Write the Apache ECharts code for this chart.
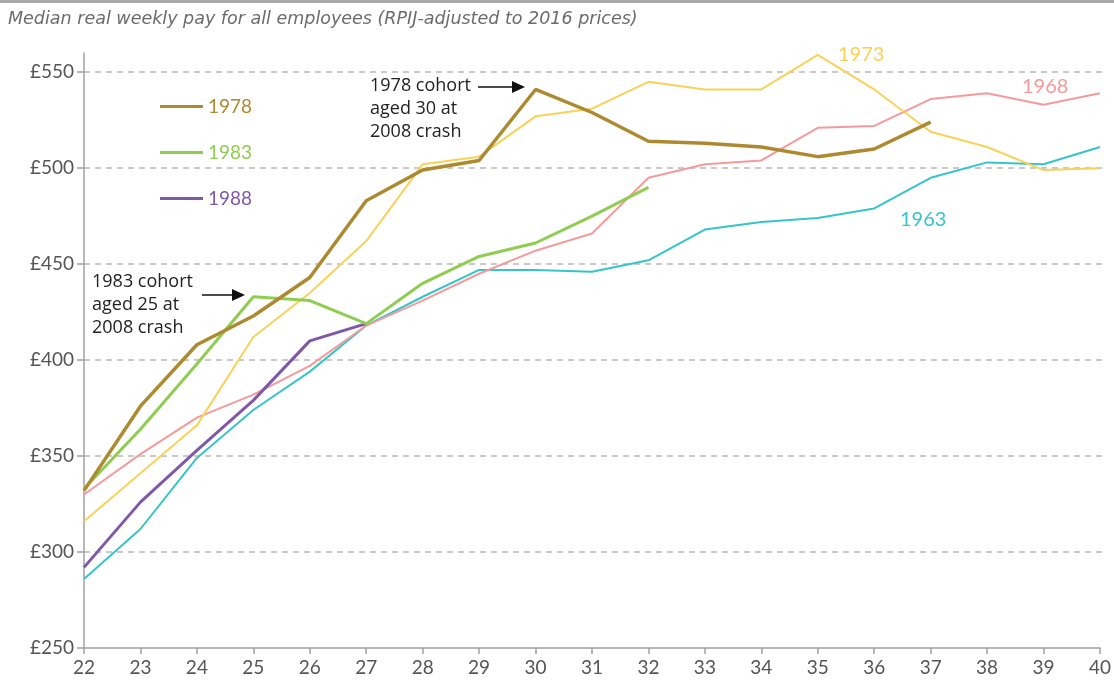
<!DOCTYPE html>
<html>
<head>
<meta charset="utf-8">
<script src="https://cdn.jsdelivr.net/npm/echarts@6/dist/echarts.min.js"></script>
<style>
  html, body { margin: 0; padding: 0; background: #fff; }
  #main { width: 1114px; height: 688px; }
</style>
</head>
<body>
<div id="main"></div>
<script>
// ages on the x axis
var ages = ['22', '23', '24', '25', '26', '27', '28', '29', '30', '31', '32', '33', '34', '35', '36', '37', '38', '39', '40']
var yTicks = [250, 300, 350, 400, 450, 500, 550]

// median real weekly pay by birth cohort (£, 2016 prices)
var c1963 = [286, 312, 349, 374, 394, 418, 433, 447, 447, 446, 452, 468, 472, 474, 479, 495, 503, 502, 511]
var c1968 = [330, 351, 370, 382, 397, 418, 431, 445, 457, 466, 495, 502, 504, 521, 522, 536, 539, 533, 539]
var c1973 = [316, 341, 366, 412, 435, 462, 502, 506, 527, 531, 545, 541, 541, 559, 541, 519, 511, 499, 500]
var c1978 = [332, 376, 408, 423, 443, 483, 499, 504, 541, 529, 514, 513, 511, 506, 510, 524]
var c1983 = [333, 364, 398, 433, 431, 419, 440, 454, 461, 475, 490]
var c1988 = [292, 326, 353, 379, 410, 419]

var colors = {
  '1963': '#35c5c8',
  '1968': '#f59a9c',
  '1973': '#f8d258',
  '1978': '#ad8a2f',
  '1983': '#8fcd50',
  '1988': '#7f58a9'
}

var myChart = echarts.init(document.getElementById('main'))

function line(name, data, width, z) {
  return {
    name: name,
    type: 'line',
    data: data,
    symbol: 'none',
    z: z,
    lineStyle: { color: colors[name], width: width },
    itemStyle: { color: colors[name] }
  }
}

function arrow(x1, x2, y) {
  return [
    { type: 'line', shape: { x1: x1, y1: y, x2: x2 - 11, y2: y }, style: { stroke: '#111', lineWidth: 1.5 } },
    { type: 'polygon', shape: { points: [[x2 - 13, y - 6], [x2, y], [x2 - 13, y + 6]] }, style: { fill: '#111' } }
  ]
}

function note(x, y, text) {
  return {
    type: 'text', left: x, top: y,
    style: { text: text, fill: '#222', font: '18px "Open Sans"', lineHeight: 23 }
  }
}

function tag(x, y, name) {
  return {
    type: 'text', left: x, top: y,
    style: { text: name, fill: colors[name], font: '20px Lato' }
  }
}

var option = {
  animation: false,
  grid: [
    { left: 84, right: 12, top: 53, bottom: 40 },
    { left: 84, right: 12, top: 72, bottom: 40 }
  ],
  legend: {
    left: 155,
    top: 92,
    orient: 'vertical',
    icon: 'rect',
    itemWidth: 43,
    itemHeight: 3,
    itemGap: 27,
    textStyle: { fontFamily: 'Lato', fontSize: 19 },
    data: [
      { name: '1978', textStyle: { color: colors['1978'] } },
      { name: '1983', textStyle: { color: colors['1983'] } },
      { name: '1988', textStyle: { color: colors['1988'] } }
    ]
  },
  xAxis: [
    {
      type: 'category',
      data: ages,
      boundaryGap: false,
      gridIndex: 0,
      axisLine: { lineStyle: { color: '#a0a0a0', width: 1.5 } },
      axisTick: { show: true, length: 6, lineStyle: { color: '#a0a0a0', width: 1.5 } },
      axisLabel: { color: '#555', fontFamily: 'Lato', fontSize: 19, margin: 10 }
    },
    {
      type: 'category',
      data: ages,
      boundaryGap: false,
      gridIndex: 1,
      show: false
    }
  ],
  yAxis: [
    {
      type: 'value',
      gridIndex: 0,
      min: 250,
      max: 560,
      axisLine: { show: true, lineStyle: { color: '#a0a0a0', width: 1.5 } },
      axisTick: { show: false },
      axisLabel: { show: false },
      splitLine: { show: false }
    },
    {
      type: 'value',
      gridIndex: 1,
      min: yTicks[0],
      max: yTicks[yTicks.length - 1],
      interval: 50,
      axisLine: { show: false },
      axisTick: { show: true, length: 7, lineStyle: { color: '#a0a0a0', width: 1.5 } },
      axisLabel: {
        color: '#555', fontFamily: 'Lato', fontSize: 19, margin: 10,
        formatter: function (v) { return '£' + v }
      },
      splitLine: {
        showMinLine: false,
        lineStyle: { color: '#b8b8b8', type: [6, 5], width: 1.5 }
      }
    }
  ],
  series: [
    line('1963', c1963, 2, 2),
    line('1968', c1968, 2, 2),
    line('1973', c1973, 2, 3),
    line('1988', c1988, 3, 4),
    line('1983', c1983, 3, 4),
    line('1978', c1978, 3.5, 5)
  ],
  graphic: [
    { type: 'rect', shape: { x: 0, y: 0, width: 1114, height: 3 }, style: { fill: '#a8a8a8' } },
    {
      type: 'text', left: 8, top: 10,
      style: {
        text: 'Median real weekly pay for all employees (RPIJ-adjusted to 2016 prices)',
        fill: '#6b6b6b', font: 'italic 17.5px "DejaVu Sans"'
      }
    },
    note(370, 74, '1978 cohort\naged 30 at\n2008 crash'),
    note(92, 270, '1983 cohort\naged 25 at\n2008 crash'),
    tag(838, 45, '1973'),
    tag(1022, 77, '1968'),
    tag(900, 210, '1963')
  ].concat(arrow(478, 525, 87), arrow(202, 245, 295))
}

myChart.setOption(option)
</script>
</body>
</html>
